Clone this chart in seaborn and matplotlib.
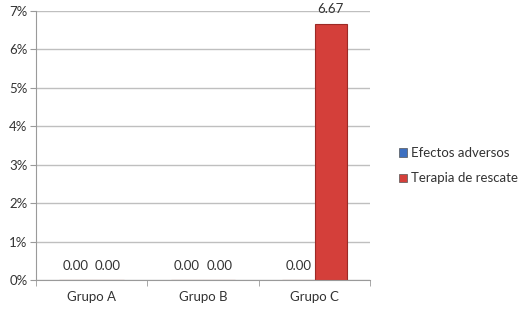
import numpy as np
import pandas as pd
import matplotlib
matplotlib.use('Agg')
import matplotlib.pyplot as plt
from matplotlib.ticker import FuncFormatter, FixedLocator
import seaborn as sns

# 데이터
grupos = ['Grupo A', 'Grupo B', 'Grupo C']
series = ['Efectos adversos', 'Terapia de rescate']
efectos = [0.00, 0.00, 0.00]
terapia = [0.00, 0.00, 6.67]

df = pd.DataFrame({
    'grupo': grupos * 2,
    'serie': [series[0]] * 3 + [series[1]] * 3,
    'valor': efectos + terapia,
})

sns.set_style('white')
plt.rcParams['font.family'] = ['Lato', 'DejaVu Sans']

fig = plt.figure(figsize=(5.2, 3.22), dpi=100)
ax = fig.add_axes([0.069, 0.130, 0.643, 0.836])

colores = {series[0]: '#3d6fc0', series[1]: '#d43f3a'}
sns.barplot(data=df, x='grupo', y='valor', hue='serie', palette=colores,
            width=0.58, gap=0, dodge=True, ax=ax, legend=False, saturation=1,
            edgecolor='#9c2a26', linewidth=0.8)

for cont in ax.containers:
    ax.bar_label(cont, fmt='%.2f', padding=6, fontsize=9.5, color='#333333')

ax.set_ylim(0, 7)
ax.set_xlim(-0.5, 2.5)
ax.set_yticks(range(0, 8))
ax.yaxis.set_major_formatter(FuncFormatter(lambda v, p: f'{int(v)}%'))
ax.yaxis.grid(True, color='#bfbfbf', linewidth=1)
ax.set_axisbelow(True)
ax.set_xlabel('')
ax.set_ylabel('')

for s in ['top', 'right']:
    ax.spines[s].set_visible(False)
ax.spines['left'].set_color('#9a9a9a')
ax.spines['bottom'].set_color('#9a9a9a')

ax.tick_params(axis='y', length=4, color='#9a9a9a', labelsize=9.5,
               labelcolor='#333333', left=True, pad=2)
ax.tick_params(axis='x', length=0, labelsize=9.5, labelcolor='#333333', pad=8)
ax.xaxis.set_minor_locator(FixedLocator([-0.5, 0.5, 1.5, 2.5]))
ax.tick_params(axis='x', which='minor', length=4, color='#9a9a9a', bottom=True)

handles = [plt.Rectangle((0, 0), 1, 1, facecolor=colores[s], edgecolor='#555555', linewidth=0.5)
           for s in series]
fig.legend(handles, series, loc='center left', bbox_to_anchor=(0.745, 0.485),
           frameon=False, fontsize=9.5, handlelength=0.6, handleheight=0.6,
           handletextpad=0.3, labelspacing=1.0, labelcolor='#333333')

fig.savefig('out.png', dpi=100)
